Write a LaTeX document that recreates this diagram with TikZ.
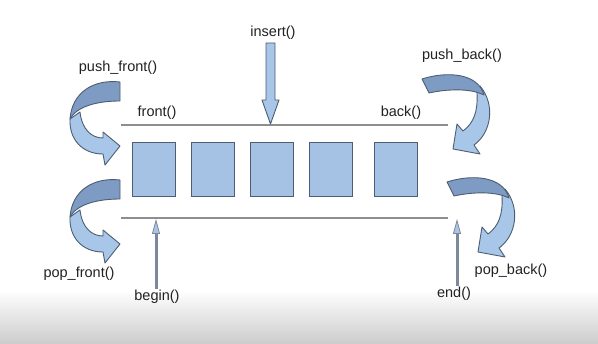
\documentclass[tikz,border=0pt]{standalone}
\usepackage{fontspec}
\setmainfont{Liberation Sans}
\usepackage{tikz}
\usetikzlibrary{arrows.meta,positioning}
\definecolor{cellfill}{HTML}{A5C2E4}
\definecolor{curllight}{HTML}{A8C6E8}
\definecolor{curldark}{HTML}{7E9BC4}
\definecolor{edge}{HTML}{4D5D73}
\definecolor{railgray}{HTML}{8E8E8E}
\definecolor{ptrgray}{HTML}{7F8898}
\definecolor{ink}{HTML}{222222}

\tikzset{
  cell/.style={draw=edge, line width=1pt, fill=cellfill, minimum width=43pt, minimum height=54pt, inner sep=0pt},
  curl/.style={draw=edge, line width=0.9pt, line join=round},
  rail/.style={draw=railgray, line width=2pt},
  lbl/.style={text=ink, inner sep=1pt},
  iter/.style={draw=ptrgray, line width=3pt, -{Triangle[width=8pt,length=15pt,line width=0.8pt,fill=curllight]}},
}

% ribbon arrow turning round the left end (origin = top of the tail)
\newcommand{\frontcurl}{%
  \filldraw[curl, fill=curllight] (-40,30) .. controls (-38,48) and (-28,56) .. (-17,56)
    -- (-17,50) -- (0,64) -- (-15,83) -- (-17,72)
    .. controls (-38,72) and (-51,57) .. (-50,37) -- cycle;
  \filldraw[curl, fill=curldark] (0,0) .. controls (-26,-3) and (-48,10) .. (-50,37)
    .. controls (-43,24) and (-22,19) .. (0,19) -- cycle;}
% ribbon arrow turning round the right end
\newcommand{\backcurl}{%
  \filldraw[curl, fill=curllight] (58,7) .. controls (74,26) and (69,54) .. (52,66)
    -- (58,75) -- (31,70) -- (35,45) -- (41,52)
    .. controls (52,44) and (56,32) .. (55,14) -- cycle;
  \filldraw[curl, fill=curldark] (0,0) .. controls (25,-8) and (56,-6) .. (62,16)
    .. controls (48,9) and (25,10) .. (7,14) -- cycle;}

\begin{document}
\begin{tikzpicture}[x=1pt, y=-1pt, font=\fontsize{14.5}{17}\selectfont]
    \useasboundingbox (0,0) rectangle (598,344);
    \fill[white] (0,0) rectangle (598,344);
    \shade[top color=white, bottom color=black!20] (0,290) rectangle (598,344);

    % rails above and below the cells
    \coordinate (topL) at (121,125); \coordinate (topR) at (448,125);
    \coordinate (botL) at (121,218); \coordinate (botR) at (448,218);
    \draw[rail] (topL) -- (topR);
    \draw[rail] (botL) -- (botR);

    % the cells
    \foreach \x [count=\i] in {132,191,250,309,374}
      \node[cell] (cell\i) at (\x+21.5,170) {};

    % labels
    \node[lbl] (pushfront) at (118,68) {push\_front()};
    \node[lbl] (pushback) at (462,56) {push\_back()};
    \node[lbl] (insert) at (273,33) {insert()};
    \node[lbl] (front) at (157,113) {front()};
    \node[lbl] (back) at (401,113) {back()};
    \node[lbl] (popfront) at (79,274) {pop\_front()};
    \node[lbl] (popback) at (511,271) {pop\_back()};
    \node[lbl] (begin) at (157,297) {begin()};
    \node[lbl] (end) at (454,294) {end()};

    % insert: block arrow down onto the top rail
    \coordinate (instip) at (270.5,124);
    \filldraw[curl, fill=curllight] (instip) -- ++(8.5,-24) -- ++(-4,0) -- ++(0,-57)
      -- ++(-9,0) -- ++(0,57) -- ++(-4,0) -- cycle;

    % iterators
    \coordinate (beginpt) at (156,219);
    \coordinate (endpt) at (457,219);
    \draw[iter] (begin.north -| beginpt) -- (beginpt);
    \draw[iter] (end.north -| endpt) -- (endpt);

    % push / pop at both ends
    \begin{scope}[shift={(120,82)}] \frontcurl \end{scope}
    \begin{scope}[shift={(120,180)}] \frontcurl \end{scope}
    \begin{scope}[shift={(422,79)}] \backcurl \end{scope}
    \begin{scope}[shift={(447,182)}] \backcurl \end{scope}
\end{tikzpicture}
\end{document}
